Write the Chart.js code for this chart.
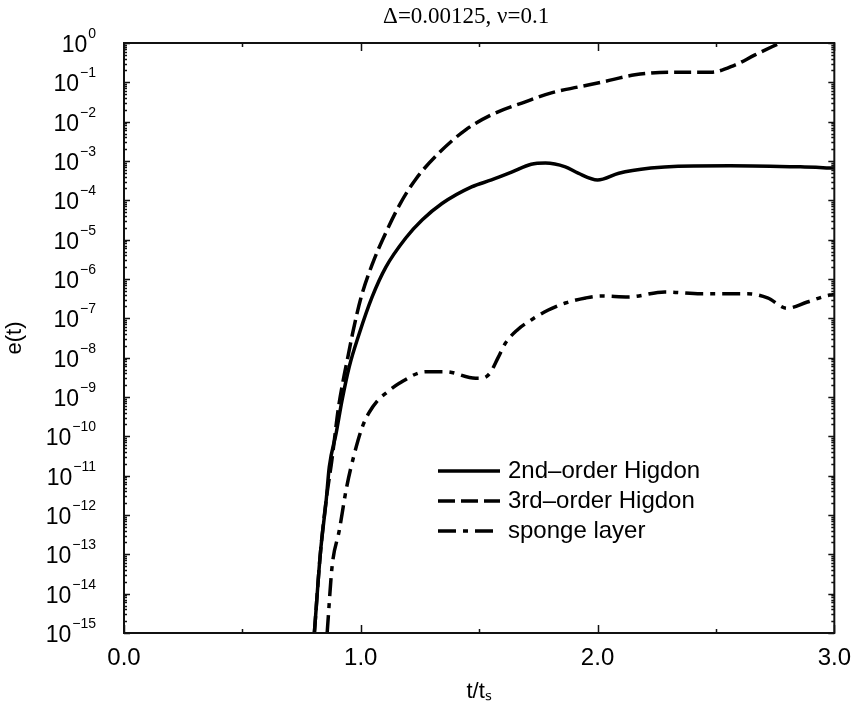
<!DOCTYPE html>
<html>
<head>
<meta charset="utf-8">
<script src="https://cdn.jsdelivr.net/npm/chart.js@4.4.0/dist/chart.umd.min.js"></script>
<style>
html,body{margin:0;padding:0;background:#fff;}
#wrap{width:862px;height:708px;}
</style>
</head>
<body>
<div id="wrap"><canvas id="c" width="862" height="708"></canvas></div>
<script>
// ---------- data ----------
const titleText = 'Δ=0.00125, ν=0.1';
const xAxisTitle = 't/tₛ';
const yAxisTitle = 'e(t)';
const seriesNames = ['2nd–order Higdon', '3rd–order Higdon', 'sponge layer'];

const xTickValues = [0, 0.5, 1, 1.5, 2, 2.5, 3];
const xTickLabels = ['0.0', '', '1.0', '', '2.0', '', '3.0'];

const yTickValues = [1e-15, 1e-14, 1e-13, 1e-12, 1e-11, 1e-10, 1e-9, 1e-8, 1e-7, 1e-6, 1e-5, 1e-4, 1e-3, 1e-2, 1e-1, 1];
const yTickBase = '10';
const yTickExponents = ['−15', '−14', '−13', '−12', '−11', '−10', '−9', '−8', '−7', '−6', '−5', '−4', '−3', '−2', '−1', '0'];

// 2nd-order Higdon (solid)
const tHigdon2 = [0.804, 0.829, 0.854, 0.867, 0.896, 0.921, 0.951, 0.993, 1.048, 1.106, 1.19, 1.26, 1.343, 1.468, 1.552, 1.637, 1.72, 1.78, 1.864, 1.918, 2.0, 2.09, 2.225, 2.34, 2.56, 2.857, 3.0];
const eHigdon2 = [1e-15, 1e-13, 2.4e-12, 1.66e-11, 1.2e-10, 8.3e-10, 5.8e-9, 4.0e-8, 3.5e-7, 2.0e-6, 1.1e-5, 3.2e-5, 8.3e-5, 2.2e-4, 3.3e-4, 5.2e-4, 8.3e-4, 8.9e-4, 7.1e-4, 4.9e-4, 3.3e-4, 4.9e-4, 6.6e-4, 7.4e-4, 7.6e-4, 7.1e-4, 6.6e-4];

// 3rd-order Higdon (dashed)
const tHigdon3 = [0.804, 0.829, 0.854, 0.878, 0.905, 0.925, 0.945, 0.965, 1.0, 1.05, 1.1, 1.165, 1.233, 1.33, 1.443, 1.552, 1.695, 1.805, 1.918, 2.015, 2.158, 2.297, 2.478, 2.58, 2.663, 2.77];
const eHigdon3 = [1e-15, 1e-13, 2.4e-12, 2.5e-11, 5e-10, 2.5e-9, 1e-8, 4e-8, 3.2e-7, 2.5e-6, 1.26e-5, 7.9e-5, 3.5e-4, 1.6e-3, 6.2e-3, 1.5e-2, 3.2e-2, 5.4e-2, 7.6e-2, 0.10, 0.155, 0.18, 0.18, 0.275, 0.49, 1.0];

// sponge layer (dash-dot)
const tSponge = [0.858, 0.879, 0.909, 0.94, 0.975, 1.006, 1.035, 1.07, 1.11, 1.161, 1.275, 1.359, 1.485, 1.51, 1.545, 1.58, 1.61, 1.66, 1.72, 1.79, 1.864, 1.95, 2.015, 2.13, 2.284, 2.436, 2.634, 2.718, 2.80, 2.886, 2.98, 3.0];
const eSponge = [1e-15, 5e-14, 4e-13, 5e-12, 4e-11, 1.7e-10, 4e-10, 8e-10, 1.3e-9, 2.2e-9, 4.4e-9, 4.4e-9, 3.0e-9, 3.0e-9, 4e-9, 1e-8, 2.3e-8, 5e-8, 9.1e-8, 1.6e-7, 2.45e-7, 3.3e-7, 3.7e-7, 3.5e-7, 4.7e-7, 4.2e-7, 4.2e-7, 3.3e-7, 1.8e-7, 2.6e-7, 3.9e-7, 4e-7];

// ---------- chart ----------
const SANS = "'Liberation Sans', Arimo, Arial, Helvetica, sans-serif";
const SERIF = "'Liberation Serif', 'Times New Roman', serif";
const LEG = {left: 428, top: 453, pad: 6, font: 24, lineX0: 438, lineX1: 500};

const toPts = (xs, ys) => xs.map((x, i) => ({x: x, y: ys[i]}));

const framePlugin = {
  id: 'frameTicks',
  afterLayout(chart) {
    const tb = chart.titleBlock;
    if (tb) { tb.left -= 13; tb.right -= 13; }
    const lg = chart.legend;
    if (lg) {
      const w = 320, h = 100;
      lg.left = LEG.left; lg.top = LEG.top; lg.right = lg.left + w; lg.bottom = lg.top + h;
      lg.width = w; lg.height = h;
    }
  },
  afterDatasetsDraw(chart) {
    const {ctx, chartArea: a, scales: {x, y}} = chart;
    ctx.save();
    // frame
    ctx.strokeStyle = '#111';
    ctx.lineWidth = 2;
    ctx.strokeRect(a.left, a.top, a.right - a.left, a.bottom - a.top);
    // inward tick marks
    ctx.lineWidth = 1.5;
    ctx.beginPath();
    xTickValues.forEach(v => {
      const px = Math.round(x.getPixelForValue(v)) + 0.5;
      const len = (Math.abs(v - Math.round(v)) < 1e-9) ? 8 : 4;
      ctx.moveTo(px, a.bottom); ctx.lineTo(px, a.bottom - len);
      ctx.moveTo(px, a.top); ctx.lineTo(px, a.top + len);
    });
    for (let p = -15; p <= 0; p++) {
      for (let m = 1; m <= 9; m++) {
        const v = m * Math.pow(10, p);
        if (v > 1.0000001) break;
        const py = Math.round(y.getPixelForValue(v)) + 0.5;
        const len = m === 1 ? 6 : 3;
        ctx.moveTo(a.left, py); ctx.lineTo(a.left + len, py);
        ctx.moveTo(a.right, py); ctx.lineTo(a.right - len, py);
      }
    }
    ctx.stroke();
    // y tick labels 10^n with raised exponent
    ctx.fillStyle = '#000';
    ctx.textBaseline = 'alphabetic';
    const rightEdge = 96;
    yTickValues.forEach((v, i) => {
      const py = y.getPixelForValue(v);
      ctx.font = '14px ' + SANS;
      const ew = ctx.measureText(yTickExponents[i]).width;
      ctx.textAlign = 'left';
      ctx.fillText(yTickExponents[i], rightEdge - ew, py - 5);
      ctx.font = '23px ' + SANS;
      ctx.textAlign = 'right';
      ctx.fillText(yTickBase, rightEdge - ew - 1, py + 9);
    });
    // legend line samples
    ctx.strokeStyle = '#000';
    ctx.lineCap = 'butt';
    chart.data.datasets.forEach((ds, i) => {
      const cy = LEG.top + LEG.pad + i * (LEG.font + LEG.pad) + LEG.font / 2;
      ctx.lineWidth = ds.borderWidth;
      ctx.setLineDash(ds.borderDash || []);
      ctx.beginPath();
      ctx.moveTo(LEG.lineX0, cy); ctx.lineTo(LEG.lineX1, cy);
      ctx.stroke();
    });
    ctx.restore();
  }
};

new Chart(document.getElementById('c'), {
  type: 'line',
  data: {
    datasets: [
      {label: seriesNames[0], data: toPts(tHigdon2, eHigdon2), borderColor: '#000', backgroundColor: '#000', borderWidth: 3.5, borderDash: [], pointRadius: 0, cubicInterpolationMode: 'monotone', fill: false},
      {label: seriesNames[1], data: toPts(tHigdon3, eHigdon3), borderColor: '#000', backgroundColor: '#000', borderWidth: 3.5, borderDash: [17, 6], pointRadius: 0, cubicInterpolationMode: 'monotone', fill: false},
      {label: seriesNames[2], data: toPts(tSponge, eSponge), borderColor: '#000', backgroundColor: '#000', borderWidth: 3.5, borderDash: [18, 7, 5, 7], pointRadius: 0, cubicInterpolationMode: 'monotone', fill: false}
    ]
  },
  options: {
    responsive: false,
    animation: false,
    devicePixelRatio: 1,
    layout: {padding: {left: 0, right: 25, top: 0, bottom: 0}},
    scales: {
      x: {
        type: 'linear', min: 0, max: 3, position: 'bottom',
        afterBuildTicks: s => { s.ticks = xTickValues.map(v => ({value: v})); },
        afterFit: s => { s.height = 75; },
        ticks: {
          autoSkip: false, maxRotation: 0, minRotation: 0, padding: 11, color: '#000',
          font: {family: SANS, size: 24},
          callback: v => { const i = xTickValues.findIndex(t => Math.abs(t - v) < 1e-9); return i >= 0 ? xTickLabels[i] : ''; }
        },
        grid: {display: false, drawTicks: false},
        border: {display: false},
        title: {display: true, text: xAxisTitle, color: '#000', font: {family: SANS, size: 22}, padding: {top: 0, bottom: 3}}
      },
      y: {
        type: 'logarithmic', min: 1e-15, max: 1, position: 'left',
        afterBuildTicks: s => { s.ticks = yTickValues.map(v => ({value: v})); },
        afterFit: s => { s.width = 124; },
        ticks: {display: false, autoSkip: false},
        grid: {display: false, drawTicks: false},
        border: {display: false},
        title: {display: true, text: yAxisTitle, color: '#000', font: {family: SANS, size: 22}, padding: {top: 2, bottom: 0}}
      }
    },
    plugins: {
      title: {display: true, text: titleText, color: '#000', fullSize: false, font: {family: SERIF, size: 23, weight: 'normal'}, padding: {top: 3, bottom: 12.4}},
      legend: {
        display: true, position: 'chartArea', align: 'start',
        labels: {
          usePointStyle: true, pointStyle: 'line', pointStyleWidth: 62, boxHeight: 8, padding: LEG.pad,
          color: '#000', font: {family: SANS, size: LEG.font},
          generateLabels: chart => Chart.defaults.plugins.legend.labels.generateLabels(chart).map(it => Object.assign(it, {strokeStyle: 'rgba(0,0,0,0)', lineWidth: 0}))
        }
      },
      tooltip: {enabled: false}
    }
  },
  plugins: [framePlugin]
});
</script>
</body>
</html>
